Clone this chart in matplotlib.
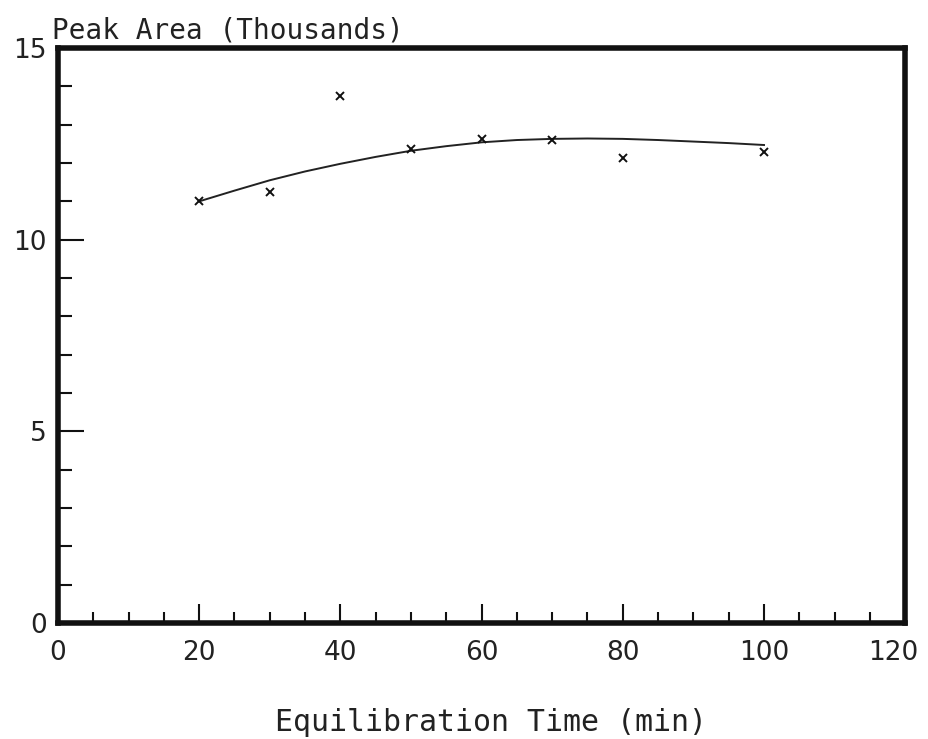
import numpy as np
import matplotlib
matplotlib.use("Agg")
import matplotlib.pyplot as plt
from matplotlib.ticker import MultipleLocator
from matplotlib.transforms import ScaledTranslation

# measured points
time_min = [20, 30, 40, 50, 60, 70, 80, 100]
peak_area = [11.0, 11.25, 13.75, 12.37, 12.63, 12.6, 12.13, 12.28]

# fitted curve
curve_x = [20, 25, 30, 35, 40, 45, 50, 55, 60, 65, 70, 75, 80, 85, 90, 95, 100]
curve_y = [11.0, 11.28, 11.55, 11.78, 11.98, 12.16, 12.32, 12.44, 12.54,
           12.6, 12.63, 12.64, 12.63, 12.6, 12.56, 12.52, 12.47]

plt.rcParams['font.family'] = ['DejaVu Sans']

fig = plt.figure(figsize=(9.29, 7.39), dpi=100)
ax = fig.add_axes([0.0624, 0.157, 0.912, 0.778])

ax.plot(curve_x, curve_y, color='#222222', lw=1.4)
ax.plot(time_min, peak_area, 'x', color='#111111', ms=6, mew=1.4)

ax.set_xlim(0, 120)
ax.set_ylim(0, 15)
ax.xaxis.set_major_locator(MultipleLocator(20))
ax.xaxis.set_minor_locator(MultipleLocator(5))
ax.yaxis.set_major_locator(MultipleLocator(5))
ax.yaxis.set_minor_locator(MultipleLocator(1))

ax.tick_params(which='both', direction='in', color='#111111', top=False, right=False)
ax.tick_params(which='major', axis='x', length=14, width=1.5, labelsize=19, pad=12)
ax.tick_params(which='minor', axis='x', length=8, width=1.5)
ax.tick_params(which='major', axis='y', length=19, width=1.5, labelsize=19, pad=8)
ax.tick_params(which='minor', axis='y', length=10, width=1.5)

for side in ['left', 'bottom', 'top', 'right']:
    ax.spines[side].set_linewidth(4)
    ax.spines[side].set_color('#111111')

fig.text(0.056, 0.959, "Peak Area (Thousands)", fontsize=20, color='#222222',
         family='DejaVu Sans Mono', ha='left', va='center')
fig.text(0.529, 0.022, "Equilibration Time (min)", fontsize=21.5, color='#222222',
         family='DejaVu Sans Mono', ha='center', va='center')

fig.canvas.draw()
for lbl in ax.get_xticklabels() + ax.get_yticklabels():
    lbl.set_color('#222222')
# last x label sits a bit left of the axis end so it stays on the page
for lbl in ax.get_xticklabels():
    if lbl.get_text() == '120':
        lbl.set_transform(lbl.get_transform() + ScaledTranslation(-0.12, 0, fig.dpi_scale_trans))

fig.savefig("out.png", dpi=100)
